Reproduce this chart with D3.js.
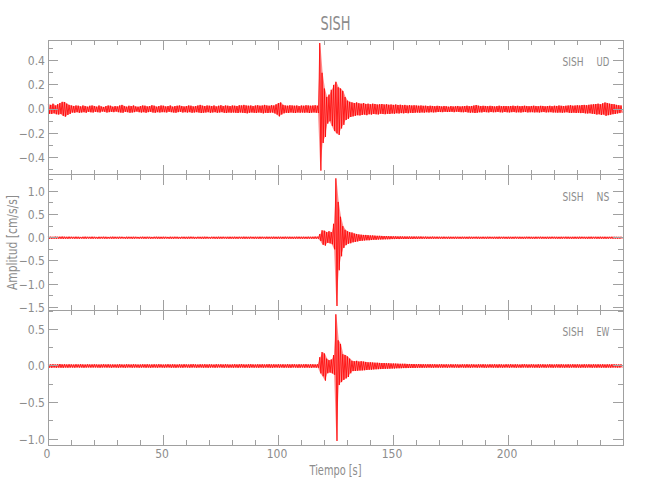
<!DOCTYPE html>
<html><head><meta charset="utf-8">
<script src="https://cdn.jsdelivr.net/npm/d3@7"></script>
<style>
body{margin:0;background:#fff}
text{font-family:"DejaVu Sans Condensed","DejaVu Sans",sans-serif;font-weight:200;fill:#8c8c8c}
</style>
</head><body>
<svg id="c" width="650" height="500"></svg>
<script>
const station = "SISH";
const components = ["UD", "NS", "EW"];
const sampleStep = 1; // seconds per envelope bin
const xTicks = [0, 50, 100, 150, 200];
const udTicks = [-0.4, -0.2, 0.0, 0.2, 0.4];
const nsTicks = [-1.5, -1.0, -0.5, 0.0, 0.5, 1.0];
const ewTicks = [-1.0, -0.5, 0.0, 0.5];

// UD envelope (upper / lower) per second
const udUp = [
.040,.035,.045,.030,.040,.050,.060,.058,.045,.035,
.030,.025,.030,.028,.022,.030,.025,.020,.028,.030,
.025,.020,.030,.022,.018,.025,.030,.028,.020,.025,
.022,.030,.035,.025,.020,.028,.025,.030,.022,.020,
.025,.030,.028,.022,.025,.032,.028,.020,.025,.030,
.028,.022,.025,.030,.020,.025,.028,.030,.025,.022,
.025,.030,.028,.022,.025,.030,.035,.028,.025,.030,
.028,.025,.030,.022,.028,.032,.025,.030,.028,.025,
.030,.028,.025,.032,.030,.035,.030,.028,.030,.025,
.030,.032,.028,.030,.035,.030,.028,.032,.030,.040,
.050,.055,.035,.030,.028,.032,.030,.028,.030,.025,
.030,.028,.032,.030,.028,.030,.032,.028,.546,.300,
.170,.100,.120,.160,.200,.226,.180,.170,.150,.100,
.070,.060,.055,.050,.055,.048,.045,.050,.042,.045,
.040,.045,.042,.038,.040,.042,.038,.040,.036,.038,
.035,.038,.034,.036,.032,.035,.030,.033,.030,.032,
.030,.028,.030,.027,.028,.025,.028,.026,.024,.027,
.025,.022,.026,.024,.020,.025,.022,.024,.026,.022,
.024,.025,.028,.024,.026,.030,.034,.028,.025,.027,
.026,.024,.027,.025,.022,.025,.028,.024,.026,.025,
.024,.026,.028,.025,.027,.024,.026,.028,.025,.024,
.026,.028,.025,.024,.027,.026,.023,.025,.027,.024,
.028,.026,.030,.027,.025,.028,.030,.032,.028,.030,
.032,.030,.034,.035,.032,.036,.038,.040,.042,.045,
.040,.048,.055,.050,.045,.042,.040,.035,.032,.030];
const udLo = [
-.038,-.040,-.035,-.042,-.045,-.040,-.055,-.062,-.048,-.040,
-.028,-.030,-.025,-.030,-.028,-.025,-.030,-.022,-.026,-.028,
-.022,-.025,-.028,-.020,-.022,-.028,-.025,-.022,-.025,-.020,
-.025,-.028,-.030,-.022,-.025,-.030,-.028,-.025,-.020,-.025,
-.028,-.025,-.030,-.025,-.022,-.028,-.030,-.025,-.028,-.025,
-.025,-.028,-.022,-.025,-.028,-.030,-.025,-.022,-.028,-.025,
-.028,-.025,-.030,-.028,-.025,-.028,-.032,-.030,-.028,-.025,
-.030,-.028,-.025,-.030,-.028,-.025,-.030,-.032,-.028,-.030,
-.028,-.030,-.032,-.028,-.030,-.032,-.035,-.030,-.028,-.030,
-.032,-.028,-.030,-.035,-.030,-.032,-.030,-.028,-.035,-.045,
-.060,-.045,-.035,-.030,-.032,-.028,-.030,-.032,-.028,-.030,
-.028,-.030,-.028,-.032,-.030,-.028,-.030,-.032,-.508,-.280,
-.230,-.120,-.100,-.140,-.180,-.200,-.213,-.160,-.130,-.090,
-.080,-.065,-.060,-.055,-.050,-.052,-.048,-.045,-.050,-.042,
-.045,-.040,-.042,-.044,-.038,-.040,-.042,-.038,-.040,-.036,
-.038,-.034,-.036,-.033,-.035,-.032,-.034,-.030,-.032,-.030,
-.028,-.030,-.027,-.029,-.026,-.028,-.025,-.027,-.026,-.024,
-.024,-.025,-.022,-.024,-.023,-.022,-.025,-.021,-.023,-.025,
-.026,-.024,-.027,-.030,-.028,-.032,-.030,-.026,-.027,-.024,
-.025,-.027,-.024,-.026,-.025,-.023,-.026,-.027,-.024,-.026,
-.027,-.025,-.024,-.027,-.026,-.028,-.025,-.024,-.027,-.026,
-.025,-.027,-.026,-.028,-.025,-.024,-.027,-.026,-.025,-.028,
-.027,-.029,-.028,-.030,-.028,-.026,-.030,-.031,-.029,-.032,
-.030,-.033,-.032,-.035,-.036,-.034,-.038,-.040,-.045,-.042,
-.048,-.045,-.055,-.050,-.046,-.042,-.040,-.036,-.033,-.030];

// NS envelope
const nsUp = [
.025,.022,.020,.024,.021,.023,.025,.022,.020,.023,
.021,.019,.022,.020,.018,.021,.023,.020,.019,.022,
.020,.018,.021,.019,.022,.020,.018,.021,.023,.020,
.019,.021,.020,.018,.022,.020,.019,.021,.020,.018,
.020,.022,.019,.021,.020,.018,.021,.022,.020,.019,
.021,.020,.018,.022,.019,.021,.020,.018,.021,.020,
.019,.021,.022,.020,.018,.021,.019,.020,.022,.020,
.018,.021,.020,.019,.022,.020,.021,.019,.020,.021,
.020,.022,.019,.021,.020,.023,.021,.020,.022,.019,
.021,.020,.022,.021,.019,.022,.020,.021,.023,.020,
.022,.021,.020,.023,.021,.022,.020,.021,.023,.022,
.021,.022,.020,.023,.021,.022,.024,.022,.080,.160,
.150,.120,.140,.120,.300,1.277,.770,.450,.250,.170,
.140,.120,.110,.090,.080,.070,.065,.060,.060,.055,
.050,.050,.045,.040,.040,.038,.035,.035,.033,.032,
.030,.030,.028,.029,.027,.028,.026,.027,.025,.026,
.025,.024,.025,.023,.024,.022,.023,.024,.022,.023,
.022,.021,.023,.020,.022,.021,.020,.022,.021,.020,
.022,.021,.020,.023,.021,.020,.022,.021,.019,.021,
.020,.022,.021,.019,.021,.020,.022,.020,.021,.019,
.021,.020,.019,.022,.020,.021,.019,.020,.022,.021,
.020,.019,.021,.020,.022,.020,.019,.021,.020,.022,
.021,.020,.019,.021,.020,.022,.021,.019,.020,.021,
.020,.022,.021,.020,.019,.021,.022,.020,.021,.020,
.022,.020,.021,.019,.020,.022,.021,.020,.019,.021];
const nsLo = [
-.022,-.024,-.021,-.023,-.020,-.022,-.024,-.021,-.023,-.020,
-.019,-.021,-.020,-.022,-.019,-.020,-.021,-.018,-.020,-.021,
-.019,-.021,-.020,-.018,-.020,-.022,-.019,-.020,-.021,-.019,
-.021,-.019,-.018,-.020,-.021,-.019,-.022,-.020,-.018,-.021,
-.019,-.020,-.022,-.019,-.021,-.020,-.019,-.021,-.022,-.020,
-.020,-.019,-.021,-.020,-.022,-.019,-.021,-.020,-.019,-.021,
-.021,-.020,-.019,-.022,-.020,-.019,-.021,-.022,-.020,-.019,
-.020,-.019,-.021,-.022,-.020,-.021,-.019,-.020,-.022,-.020,
-.021,-.020,-.022,-.019,-.021,-.022,-.020,-.021,-.019,-.022,
-.020,-.022,-.021,-.019,-.022,-.021,-.020,-.022,-.021,-.023,
-.021,-.022,-.023,-.020,-.022,-.021,-.023,-.022,-.020,-.021,
-.022,-.021,-.023,-.020,-.022,-.023,-.021,-.022,-.070,-.150,
-.170,-.110,-.120,-.140,-.250,-1.469,-.700,-.400,-.220,-.160,
-.130,-.120,-.100,-.090,-.080,-.070,-.065,-.060,-.055,-.055,
-.050,-.045,-.045,-.040,-.038,-.036,-.035,-.033,-.032,-.030,
-.030,-.028,-.029,-.027,-.028,-.026,-.027,-.025,-.026,-.024,
-.025,-.023,-.024,-.022,-.024,-.023,-.022,-.023,-.021,-.022,
-.021,-.022,-.020,-.021,-.023,-.020,-.022,-.021,-.020,-.022,
-.020,-.021,-.022,-.020,-.021,-.019,-.021,-.022,-.020,-.021,
-.022,-.020,-.019,-.021,-.020,-.022,-.021,-.019,-.020,-.022,
-.020,-.021,-.022,-.019,-.021,-.020,-.022,-.021,-.019,-.020,
-.021,-.022,-.020,-.019,-.021,-.020,-.022,-.021,-.020,-.019,
-.020,-.021,-.022,-.020,-.019,-.021,-.020,-.022,-.021,-.020,
-.022,-.020,-.019,-.021,-.022,-.020,-.021,-.019,-.022,-.021,
-.020,-.021,-.022,-.020,-.019,-.021,-.020,-.022,-.021,-.020];

// EW envelope
const ewUp = [
.024,.022,.025,.021,.023,.026,.022,.024,.021,.023,
.022,.020,.023,.021,.024,.022,.020,.023,.021,.022,
.023,.021,.020,.022,.024,.021,.023,.020,.022,.021,
.022,.024,.021,.020,.023,.022,.021,.024,.022,.020,
.021,.023,.022,.024,.020,.022,.023,.021,.024,.022,
.020,.022,.024,.021,.023,.022,.020,.023,.021,.024,
.022,.021,.023,.025,.022,.020,.023,.022,.024,.021,
.023,.022,.020,.024,.022,.023,.021,.024,.022,.020,
.022,.024,.021,.023,.025,.022,.021,.023,.024,.022,
.021,.023,.022,.024,.021,.023,.025,.022,.023,.021,
.024,.022,.023,.021,.025,.022,.024,.023,.021,.024,
.022,.023,.025,.022,.024,.023,.022,.024,.120,.190,
.170,.100,.080,.090,.150,.705,.350,.300,.160,.150,
.130,.100,.070,.065,.070,.060,.065,.060,.055,.050,
.050,.048,.045,.045,.042,.040,.040,.038,.038,.035,
.035,.033,.032,.030,.030,.030,.028,.028,.027,.026,
.025,.026,.024,.025,.023,.024,.025,.023,.024,.022,
.023,.024,.022,.023,.021,.024,.022,.023,.022,.021,
.023,.022,.024,.021,.023,.022,.020,.023,.022,.024,
.022,.021,.023,.022,.024,.021,.023,.022,.020,.023,
.022,.024,.021,.023,.022,.020,.023,.024,.022,.021,
.023,.022,.020,.024,.022,.023,.021,.022,.024,.022,
.021,.023,.022,.024,.021,.022,.023,.021,.024,.022,
.023,.021,.022,.024,.022,.023,.021,.024,.022,.023,
.022,.024,.021,.023,.022,.024,.023,.021,.022,.023];
const ewLo = [
-.022,-.025,-.021,-.024,-.022,-.023,-.025,-.021,-.023,-.022,
-.021,-.023,-.020,-.022,-.021,-.023,-.022,-.020,-.022,-.021,
-.020,-.022,-.023,-.021,-.020,-.022,-.021,-.023,-.020,-.022,
-.023,-.021,-.022,-.024,-.021,-.020,-.023,-.022,-.021,-.023,
-.022,-.020,-.023,-.021,-.024,-.022,-.021,-.023,-.020,-.022,
-.023,-.021,-.020,-.023,-.022,-.024,-.021,-.022,-.023,-.020,
-.021,-.023,-.022,-.020,-.024,-.022,-.021,-.023,-.022,-.024,
-.022,-.021,-.023,-.022,-.020,-.022,-.024,-.021,-.023,-.022,
-.023,-.021,-.024,-.022,-.021,-.023,-.022,-.024,-.021,-.023,
-.022,-.024,-.021,-.023,-.022,-.021,-.023,-.024,-.022,-.021,
-.023,-.021,-.024,-.022,-.023,-.025,-.021,-.022,-.024,-.023,
-.021,-.024,-.022,-.023,-.025,-.022,-.023,-.024,-.100,-.140,
-.200,-.100,-.090,-.100,-.120,-1.023,-.260,-.220,-.190,-.170,
-.150,-.100,-.070,-.068,-.065,-.062,-.060,-.058,-.055,-.052,
-.050,-.047,-.045,-.043,-.042,-.040,-.039,-.037,-.036,-.035,
-.034,-.032,-.031,-.030,-.029,-.029,-.028,-.027,-.026,-.026,
-.025,-.024,-.025,-.023,-.024,-.022,-.023,-.024,-.022,-.023,
-.022,-.023,-.021,-.024,-.022,-.021,-.023,-.022,-.024,-.021,
-.022,-.023,-.021,-.024,-.022,-.020,-.023,-.022,-.021,-.023,
-.024,-.022,-.021,-.023,-.022,-.024,-.021,-.023,-.022,-.020,
-.023,-.021,-.022,-.024,-.021,-.023,-.022,-.020,-.023,-.022,
-.021,-.023,-.022,-.024,-.021,-.022,-.023,-.021,-.022,-.024,
-.022,-.021,-.023,-.022,-.024,-.021,-.023,-.022,-.021,-.023,
-.022,-.024,-.021,-.023,-.022,-.021,-.024,-.022,-.023,-.021,
-.023,-.022,-.024,-.021,-.023,-.022,-.021,-.023,-.022,-.021];

const svg = d3.select("#c");
const L = 48, R = 623;
const axisColor = "#a0a0a0";
const xs = d3.scaleLinear().domain([0, 250]).range([L, R]);

const panels = [
  {comp: components[0], up: udUp, lo: udLo, top: 40, bot: 174.5, dom: [-0.540, 0.571], ticks: udTicks, minor: 0.1},
  {comp: components[1], up: nsUp, lo: nsLo, top: 174.5, bot: 310, dom: [-1.555, 1.36], ticks: nsTicks, minor: 0.25},
  {comp: components[2], up: ewUp, lo: ewLo, top: 310, bot: 445, dom: [-1.078, 0.764], ticks: ewTicks, minor: 0.25}
];
const fmt = d3.format(".1f");
const xMinor = d3.range(0, 251, 10);

panels.forEach(p => {
  const ys = d3.scaleLinear().domain(p.dom).range([p.bot, p.top]);
  const g = svg.append("g");
  // envelope band (light) + zigzag trace
  const area = d3.area().x((d, i) => xs(i * sampleStep + 0.4))
    .y0((d, i) => ys(p.lo[i])).y1(d => ys(d));
  g.append("path").attr("d", area(p.up)).attr("fill", "#ff0000").attr("fill-opacity", 0.45);
  const pts = [];
  p.up.forEach((v, i) => {
    pts.push([i * sampleStep + 0.15, v]);
    pts.push([i * sampleStep + 0.65, p.lo[i]]);
  });
  const line = d3.line().x(d => xs(d[0])).y(d => ys(d[1]));
  g.append("path").attr("d", line(pts)).attr("fill", "none")
    .attr("stroke", "#ff0000").attr("stroke-width", 0.8);

  const ax = svg.append("g").attr("stroke", axisColor).attr("stroke-width", 1).attr("shape-rendering", "crispEdges");
  ax.append("rect").attr("x", L).attr("y", p.top).attr("width", R - L).attr("height", p.bot - p.top).attr("fill", "none");
  xMinor.forEach(t => {
    const len = xTicks.includes(t) ? 10 : 5;
    ax.append("line").attr("x1", xs(t)).attr("x2", xs(t)).attr("y1", p.bot).attr("y2", p.bot - len);
    ax.append("line").attr("x1", xs(t)).attr("x2", xs(t)).attr("y1", p.top).attr("y2", p.top + len);
  });
  const yMinor = d3.range(Math.ceil(p.dom[0] / p.minor) * p.minor, p.dom[1] + 1e-9, p.minor);
  yMinor.forEach(v => {
    const major = p.ticks.some(t => Math.abs(t - v) < 1e-6);
    const len = major ? 10 : 5;
    ax.append("line").attr("x1", L).attr("x2", L + len).attr("y1", ys(v)).attr("y2", ys(v));
    ax.append("line").attr("x1", R).attr("x2", R - len).attr("y1", ys(v)).attr("y2", ys(v));
  });
  p.ticks.forEach(t => {
    svg.append("text").attr("x", 45).attr("y", ys(t)).attr("dy", "0.36em")
      .attr("text-anchor", "end").attr("font-size", 12)
      .text(fmt(t).replace("-", "\u2212"));
  });
  svg.append("text").attr("x", 562.5).attr("y", p.top + 26).attr("font-size", 13)
    .attr("textLength", 21).attr("lengthAdjust", "spacingAndGlyphs").text(station);
  svg.append("text").attr("x", 596.5).attr("y", p.top + 26).attr("font-size", 13)
    .attr("textLength", 12.8).attr("lengthAdjust", "spacingAndGlyphs").text(p.comp);
});

xTicks.forEach(t => {
  svg.append("text").attr("x", xs(t) - 1).attr("y", 458).attr("text-anchor", "middle")
    .attr("font-size", 12).text(t);
});

svg.append("text").attr("x", 335.5).attr("y", 30).attr("text-anchor", "middle")
  .attr("font-size", 20).attr("textLength", 30).attr("lengthAdjust", "spacingAndGlyphs").text(station);
svg.append("text").attr("x", 335.5).attr("y", 475).attr("text-anchor", "middle")
  .attr("font-size", 14).attr("textLength", 52).attr("lengthAdjust", "spacingAndGlyphs").text("Tiempo  [s]");
svg.append("text").attr("transform", "translate(17,242.5) rotate(-90)").attr("text-anchor", "middle")
  .attr("font-size", 14).attr("textLength", 95).attr("lengthAdjust", "spacingAndGlyphs").text("Amplitud  [cm/s/s]");
</script>
</body></html>
